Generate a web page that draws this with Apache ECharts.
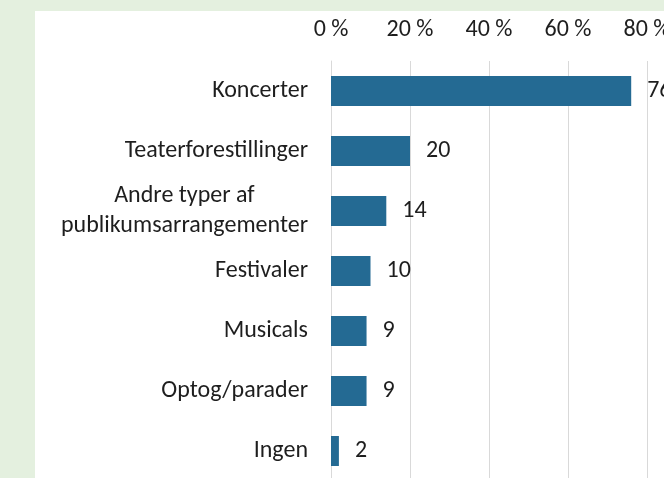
<!DOCTYPE html>
<html>
<head>
<meta charset="utf-8">
<script src="https://cdn.jsdelivr.net/npm/echarts@6/dist/echarts.min.js"></script>
<style>
html,body{margin:0;padding:0;background:#e4f0df;}
#c{width:664px;height:478px;}
</style>
</head>
<body>
<div id="c"></div>
<script>
const categories = ["Koncerter","Teaterforestillinger","Andre typer af\npublikumsarrangementer","Festivaler","Musicals","Optog/parader","Ingen"];
const values = [76,20,14,10,9,9,2];
const ticks = [0,20,40,60,80];

const FONT = "Carlito, Lato, sans-serif";
const FS = 24;
const chart = echarts.init(document.getElementById('c'), null, {renderer:'canvas'});
chart.setOption({
  backgroundColor: '#e4f0df',
  animation: false,
  graphic: [{
    type: 'rect', z: -10, silent: true,
    shape: {x: 35, y: 11, width: 700, height: 500},
    style: {fill: '#ffffff'}
  }],
  grid: {left: 331, right: 17, top: 61, height: 420, containLabel: false, outerBoundsMode: 'none'},
  xAxis: {
    type: 'value', position: 'top', min: 0, max: 80, interval: 20,
    axisLine: {show: false}, axisTick: {show: false},
    splitLine: {show: true, lineStyle: {color: '#d9d9d9', width: 1}},
    axisLabel: {
      margin: 19, color: '#1e1e1e', fontFamily: FONT, fontSize: FS,
      formatter: v => ticks.includes(v) ? v + ' %' : ''
    }
  },
  yAxis: {
    type: 'category', data: categories, inverse: true,
    axisLine: {show: true, lineStyle: {color: '#d9d9d9'}},
    axisTick: {show: false},
    axisLabel: {
      margin: 23, color: '#1e1e1e', fontFamily: FONT, fontSize: FS, align: 'right',
      formatter: v => v.split('\n').map(s => '{c|' + s + '}').join('\n'),
      rich: {c: {align: 'center', fontFamily: FONT, fontSize: FS, color: '#1e1e1e', lineHeight: 30}}
    }
  },
  series: [{
    type: 'bar', data: values, barWidth: 30,
    itemStyle: {color: '#246a93'},
    label: {show: true, position: 'right', distance: 16, color: '#1e1e1e', fontFamily: FONT, fontSize: FS}
  }]
});
</script>
</body>
</html>
